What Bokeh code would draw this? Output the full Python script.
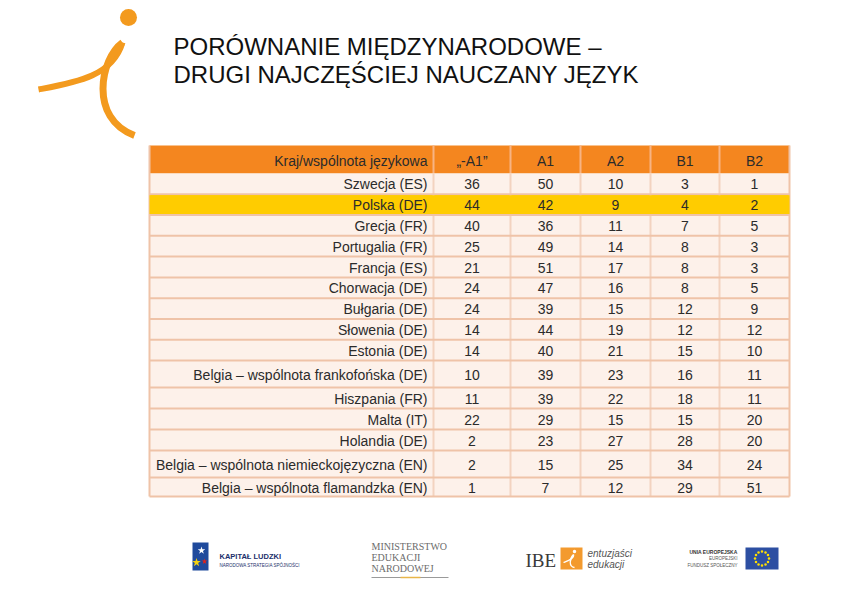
from bokeh.plotting import figure
from bokeh.models import Range1d
from bokeh.core.properties import value
from bokeh.embed import file_html
from bokeh.resources import INLINE

# ---------------- data ----------------
title_lines = ["PORÓWNANIE MIĘDZYNARODOWE –", "DRUGI NAJCZĘŚCIEJ NAUCZANY JĘZYK"]
header_label = "Kraj/wspólnota językowa"
levels = ["„-A1”", "A1", "A2", "B1", "B2"]
countries = [
    "Szwecja (ES)", "Polska (DE)", "Grecja (FR)", "Portugalia (FR)", "Francja (ES)",
    "Chorwacja (DE)", "Bułgaria (DE)", "Słowenia (DE)", "Estonia (DE)",
    "Belgia – wspólnota frankofońska (DE)",
    "Hiszpania (FR)", "Malta (IT)", "Holandia (DE)",
    "Belgia – wspólnota niemieckojęzyczna (EN)",
    "Belgia – wspólnota flamandzka (EN)",
]
pre_a1 = [36, 44, 40, 25, 21, 24, 24, 14, 14, 10, 11, 22, 2, 2, 1]
a1 = [50, 42, 36, 49, 51, 47, 39, 44, 40, 39, 39, 29, 23, 15, 7]
a2 = [10, 9, 11, 14, 17, 16, 15, 19, 21, 23, 22, 15, 27, 25, 12]
b1 = [3, 4, 7, 8, 8, 8, 12, 12, 15, 16, 18, 15, 28, 34, 29]
b2 = [1, 2, 5, 3, 3, 5, 9, 12, 10, 11, 11, 20, 20, 24, 51]
highlight = "Polska (DE)"

series = [pre_a1, a1, a2, b1, b2]

# ---------------- layout ----------------
FONT = "Liberation Sans"
FS = "14px"
col_edges = [149, 433, 510, 580, 650, 719, 789]
header_top, header_bot = 145, 173
row_heights = [20.78] * 9 + [27] + [21] * 3 + [27] + [19]

ORANGE = "#F4861F"
CELL_BG = "#FDF1EA"
YELLOW = "#FFCC00"
HLINE = "#EFC3A8"
VLINE = "#F3D3C0"
TXT = "#2b2b2b"

p = figure(width=826, height=579, x_range=Range1d(0, 826), y_range=Range1d(579, 0),
           x_axis_type=None, y_axis_type=None, toolbar_location=None,
           output_backend="svg", min_border=0)
p.grid.visible = False
p.outline_line_color = None
p.background_fill_color = "white"
p.border_fill_color = "white"

# row boundaries
tops, bots = [], []
y = header_bot
for h in row_heights:
    tops.append(y)
    bots.append(y + h)
    y += h
table_bottom = y

# ---------- header ----------
p.quad(left=[col_edges[0]], right=[col_edges[-1]], top=[header_top], bottom=[header_bot],
       fill_color=ORANGE, line_color=None)
p.segment(x0=col_edges[1:-1], x1=col_edges[1:-1], y0=[header_top] * 5, y1=[header_bot] * 5,
          line_color="#F7B383", line_width=2)
col_centers = [(col_edges[i] + col_edges[i + 1]) / 2 for i in range(1, 6)]
p.text(x=[col_edges[1] - 6], y=[(header_top + header_bot) / 2 + 1], text=[header_label],
       text_align="right", text_baseline="middle", text_font=value(FONT),
       text_font_size=FS, text_color=TXT)
p.text(x=col_centers, y=[(header_top + header_bot) / 2 + 1] * 5, text=levels,
       text_align="center", text_baseline="middle", text_font=value(FONT),
       text_font_size=FS, text_color=TXT)

# ---------- body ----------
fills = [YELLOW if c == highlight else CELL_BG for c in countries]
p.quad(left=[col_edges[0]] * len(countries), right=[col_edges[-1]] * len(countries),
       top=tops, bottom=bots, fill_color=fills, line_color=None)
p.segment(x0=col_edges[1:-1], x1=col_edges[1:-1], y0=[header_bot] * 5, y1=[table_bottom] * 5,
          line_color=VLINE, line_width=2)
p.segment(x0=[col_edges[0]] * (len(bots)), x1=[col_edges[-1]] * len(bots),
          y0=bots, y1=bots, line_color=HLINE, line_width=2)
p.segment(x0=[col_edges[0], col_edges[-1]], x1=[col_edges[0], col_edges[-1]],
          y0=[header_top, header_top], y1=[table_bottom, table_bottom],
          line_color=HLINE, line_width=2)
hi = countries.index(highlight)
p.quad(left=[col_edges[0]], right=[col_edges[-1]], top=[tops[hi] + 1], bottom=[bots[hi] - 1],
       fill_color=YELLOW, line_color=None)

mids = [(t + b) / 2 + 0.5 for t, b in zip(tops, bots)]
p.text(x=[col_edges[1] - 6] * len(countries), y=mids, text=countries,
       text_align="right", text_baseline="middle", text_font=value(FONT),
       text_font_size=FS, text_color=TXT)
for ci, vals in enumerate(series):
    p.text(x=[col_centers[ci]] * len(vals), y=mids, text=[str(v) for v in vals],
           text_align="center", text_baseline="middle", text_font=value(FONT),
           text_font_size=FS, text_color=TXT)

# ---------- title ----------
p.text(x=[173, 173], y=[46, 74], text=title_lines, text_align="left",
       text_baseline="middle", text_font=value(FONT), text_font_size="24px",
       text_color="#111111")

# ---------- top-left logo ----------
LOGO = "#F39A1E"
p.scatter(x=[128], y=[17], size=17, fill_color=LOGO, line_color=None)
p.bezier(x0=[38], y0=[89], cx0=[75], cy0=[82], cx1=[112], cy1=[76], x1=[122], y1=[42],
         line_color=LOGO, line_width=6)
p.bezier(x0=[122], y0=[42], cx0=[100], cy0=[58], cx1=[88], cy1=[118], x1=[134], y1=[135],
         line_color=LOGO, line_width=7)

# ---------- bottom logos ----------
# Kapitał Ludzki
p.quad(left=[192], right=[208], top=[542], bottom=[570], fill_color="#1F4A9C", line_color=None)
p.scatter(x=[201], y=[550], marker="star", size=8, fill_color="white", line_color=None)
p.scatter(x=[196], y=[562], marker="star", size=9, fill_color="#F5D10E", line_color=None)
p.scatter(x=[204], y=[561], marker="star", size=6, fill_color="#E2231A", line_color=None)
p.text(x=[219], y=[556], text=["KAPITAŁ LUDZKI"], text_align="left", text_baseline="middle",
       text_font=value(FONT), text_font_size="7.5px", text_font_style="bold", text_color="#1B2F6B")
p.text(x=[219], y=[565], text=["NARODOWA STRATEGIA SPÓJNOŚCI"], text_align="left",
       text_baseline="middle", text_font=value(FONT), text_font_size="4.5px", text_color="#1B2F6B")
# Ministerstwo
p.text(x=[371, 371, 371], y=[546, 557, 568], text=["MINISTERSTWO", "EDUKACJI", "NARODOWEJ"],
       text_align="left", text_baseline="middle", text_font=value("Liberation Serif"),
       text_font_size="10px", text_color="#6b6b6b")
p.segment(x0=[371], x1=[448], y0=[577], y1=[577], line_color="#9a9a9a", line_width=1)
p.segment(x0=[400], x1=[420], y0=[577], y1=[577], line_color="#E8B64A", line_width=1.5)
# IBE
p.text(x=[525], y=[560], text=["IBE"], text_align="left", text_baseline="middle",
       text_font=value("Liberation Serif"), text_font_size="19px", text_color="#3a3a3a")
p.quad(left=[560], right=[582], top=[547], bottom=[569], fill_color="#F39A2E", line_color=None)
p.scatter(x=[574], y=[551], size=3.5, fill_color="white", line_color=None)
p.bezier(x0=[563], y0=[562], cx0=[568], cy0=[560], cx1=[574], cy1=[558], x1=[573], y1=[554],
         line_color="white", line_width=1.3)
p.bezier(x0=[573], y0=[554], cx0=[569], cy0=[558], cx1=[568], cy1=[566], x1=[574], y1=[567],
         line_color="white", line_width=1.3)
p.text(x=[587, 587], y=[553, 564], text=["entuzjaści", "edukacji"], text_align="left",
       text_baseline="middle", text_font=value(FONT), text_font_size="10px",
       text_font_style="italic", text_color="#555555")
# UE
p.text(x=[737], y=[551], text=["UNIA EUROPEJSKA"], text_align="right", text_baseline="middle",
       text_font=value(FONT), text_font_size="5px", text_font_style="bold", text_color="#333333")
p.text(x=[737, 737], y=[558, 565], text=["EUROPEJSKI", "FUNDUSZ SPOŁECZNY"], text_align="right",
       text_baseline="middle", text_font=value(FONT), text_font_size="4.5px", text_color="#555555")
p.quad(left=[745], right=[778], top=[547], bottom=[569], fill_color="#2D4FA2", line_color=None)
star_dx = [0, 3.5, 6, 7, 6, 3.5, 0, -3.5, -6, -7, -6, -3.5]
star_dy = [-7, -6, -3.5, 0, 3.5, 6, 7, 6, 3.5, 0, -3.5, -6]
p.scatter(x=[761.5 + d for d in star_dx], y=[558 + d for d in star_dy], size=2.5,
          fill_color="#FFE000", line_color=None)

open("out.html", "w").write(file_html(p, INLINE))
